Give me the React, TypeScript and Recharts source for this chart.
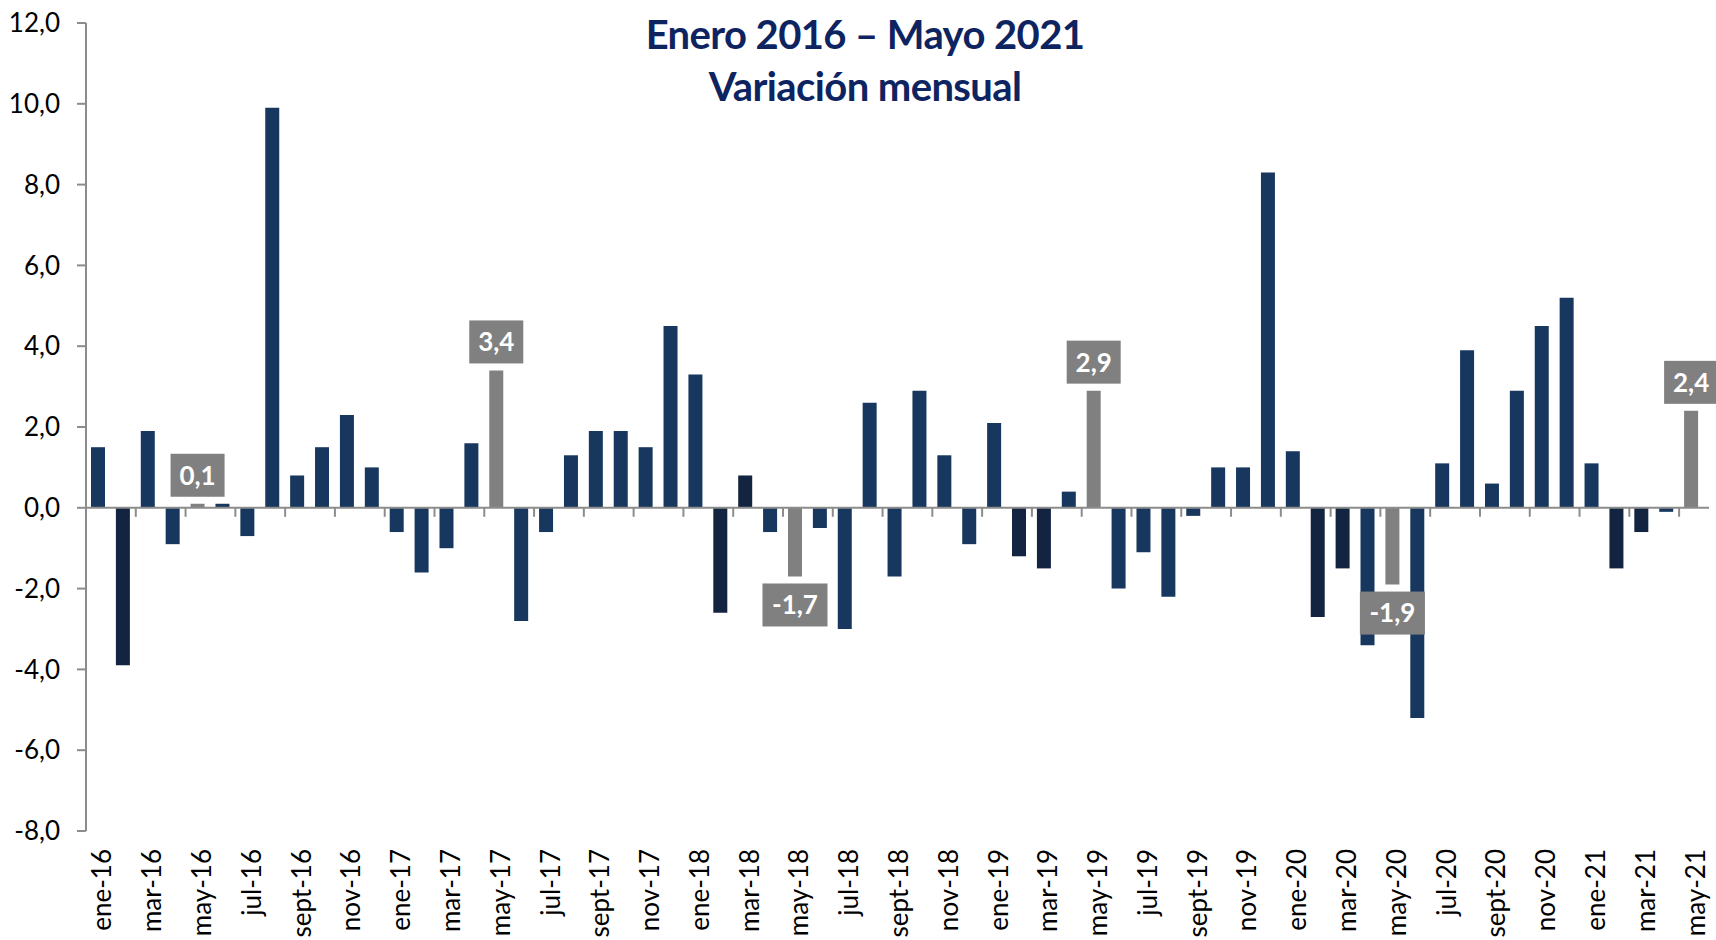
import { Bar, BarChart, Cell, LabelList, ReferenceLine, XAxis, YAxis } from "recharts";

const MONTHS = ["ene", "feb", "mar", "abr", "may", "jun", "jul", "ago", "sept", "oct", "nov", "dic"];
const YEARS = ["16", "17", "18", "19", "20", "21"];

// variación mensual, %
const v2016 = [1.5, -3.9, 1.9, -0.9, 0.1, 0.1, -0.7, 9.9, 0.8, 1.5, 2.3, 1.0];
const v2017 = [-0.6, -1.6, -1.0, 1.6, 3.4, -2.8, -0.6, 1.3, 1.9, 1.9, 1.5, 4.5];
const v2018 = [3.3, -2.6, 0.8, -0.6, -1.7, -0.5, -3.0, 2.6, -1.7, 2.9, 1.3, -0.9];
const v2019 = [2.1, -1.2, -1.5, 0.4, 2.9, -2.0, -1.1, -2.2, -0.2, 1.0, 1.0, 8.3];
const v2020 = [1.4, -2.7, -1.5, -3.4, -1.9, -5.2, 1.1, 3.9, 0.6, 2.9, 4.5, 5.2];
const v2021 = [1.1, -1.5, -0.6, -0.1, 2.4];

const VALUES = [...v2016, ...v2017, ...v2018, ...v2019, ...v2020, ...v2021];
const CATEGORIES = YEARS.flatMap((y) => MONTHS.map((m) => `${m}-${y}`)).slice(0, VALUES.length);

const DARK_MONTHS = ["feb-16", "feb-18", "mar-18", "feb-19", "mar-19", "feb-20", "mar-20", "feb-21", "mar-21"];
const LABELLED_MONTHS = ["may-16", "may-17", "may-18", "may-19", "may-20", "may-21"];
const Y_TICKS = [-8, -6, -4, -2, 0, 2, 4, 6, 8, 10, 12];

const BLUE = "#17375e";
const DARK = "#12243f";
const GRAY = "#808080";
const AXIS = "#8c8c8c";
const TITLE = "#0e2461";
const FONT = "Lato, 'Open Sans', sans-serif";

const data = CATEGORIES.map((month, i) => ({
  month,
  value: VALUES[i],
  label: LABELLED_MONTHS.includes(month) ? VALUES[i] : null,
}));

const fmt = (v: number) => v.toFixed(1).replace(".", ",");

function MonthTick({ x, y, payload }: any) {
  return (
    <text
      x={x} y={y} dy="0.5em" transform={`rotate(-90 ${x} ${y})`}
      textAnchor="end" fontFamily={FONT} fontSize={26} fill="#000"
    >
      {payload.value}
    </text>
  );
}

// eje en cero con marcas cada dos meses, entre categorías
function ZeroAxis(props: any) {
  const { x1, x2, y1 } = props;
  const n = CATEGORIES.length;
  const band = (x2 - x1) / n;
  const marks: number[] = [];
  for (let i = 2; i < n; i += 2) marks.push(x1 + i * band);
  return (
    <g>
      <line x1={x1} y1={y1} x2={x2 + 5} y2={y1} stroke={AXIS} strokeWidth={2} />
      {marks.map((tx) => (
        <line key={tx} x1={tx} x2={tx} y1={y1} y2={y1 + 9} stroke={AXIS} strokeWidth={2} />
      ))}
    </g>
  );
}

function ValueBox({ x, y, width, height, value }: any) {
  if (value === null || value === undefined) return null;
  const v = Number(value);
  const top = Math.min(y, y + height);
  const bottom = Math.max(y, y + height);
  const text = fmt(v);
  const w = 11 * text.length + 21;
  const h = 43;
  const cx = x + width / 2;
  const by = v >= 0 ? top - 7 - h : bottom + 7;
  return (
    <g>
      <rect x={cx - w / 2} y={by} width={w} height={h} fill={GRAY} />
      <text
        x={cx} y={by + h / 2} dy="0.36em" textAnchor="middle"
        fontFamily={FONT} fontWeight={700} fontSize={26} fill="#fff"
      >
        {text}
      </text>
    </g>
  );
}

export default function App() {
  return (
    <div style={{ position: "absolute", left: 0, top: 0, width: 1716, height: 940, background: "#fff" }}>
      <BarChart
        width={1716} height={940} data={data} barSize={14}
        margin={{ top: 23, right: 12, bottom: 4, left: 0 }}
      >
        <YAxis
          domain={[-8, 12]} ticks={Y_TICKS} width={86} tickFormatter={fmt}
          axisLine={{ stroke: AXIS, strokeWidth: 2 }}
          tickLine={{ stroke: AXIS, strokeWidth: 2 }}
          tickSize={9} tickMargin={17}
          tick={{ fontSize: 26, fill: "#000", fontFamily: FONT }}
        />
        <XAxis
          dataKey="month" interval={1} height={105}
          axisLine={false} tickLine={false} tickSize={0} tickMargin={18}
          tick={<MonthTick />}
        />
        <Bar dataKey="value" isAnimationActive={false}>
          {data.map((d) => (
            <Cell
              key={d.month}
              fill={LABELLED_MONTHS.includes(d.month) ? GRAY : DARK_MONTHS.includes(d.month) ? DARK : BLUE}
            />
          ))}
          <LabelList dataKey="label" content={<ValueBox />} />
        </Bar>
        <ReferenceLine y={0} shape={ZeroAxis} />
      </BarChart>
      <svg width={1716} height={120} style={{ position: "absolute", left: 0, top: 0, pointerEvents: "none" }}>
        <text
          x={865} y={49} textAnchor="middle" fontFamily={FONT} fontWeight={700}
          fontSize={40} letterSpacing={-0.6} fill={TITLE}
        >
          Enero 2016 – Mayo 2021
        </text>
        <text
          x={865} y={101} textAnchor="middle" fontFamily={FONT} fontWeight={700}
          fontSize={40} letterSpacing={-0.6} fill={TITLE}
        >
          Variación mensual
        </text>
      </svg>
    </div>
  );
}
